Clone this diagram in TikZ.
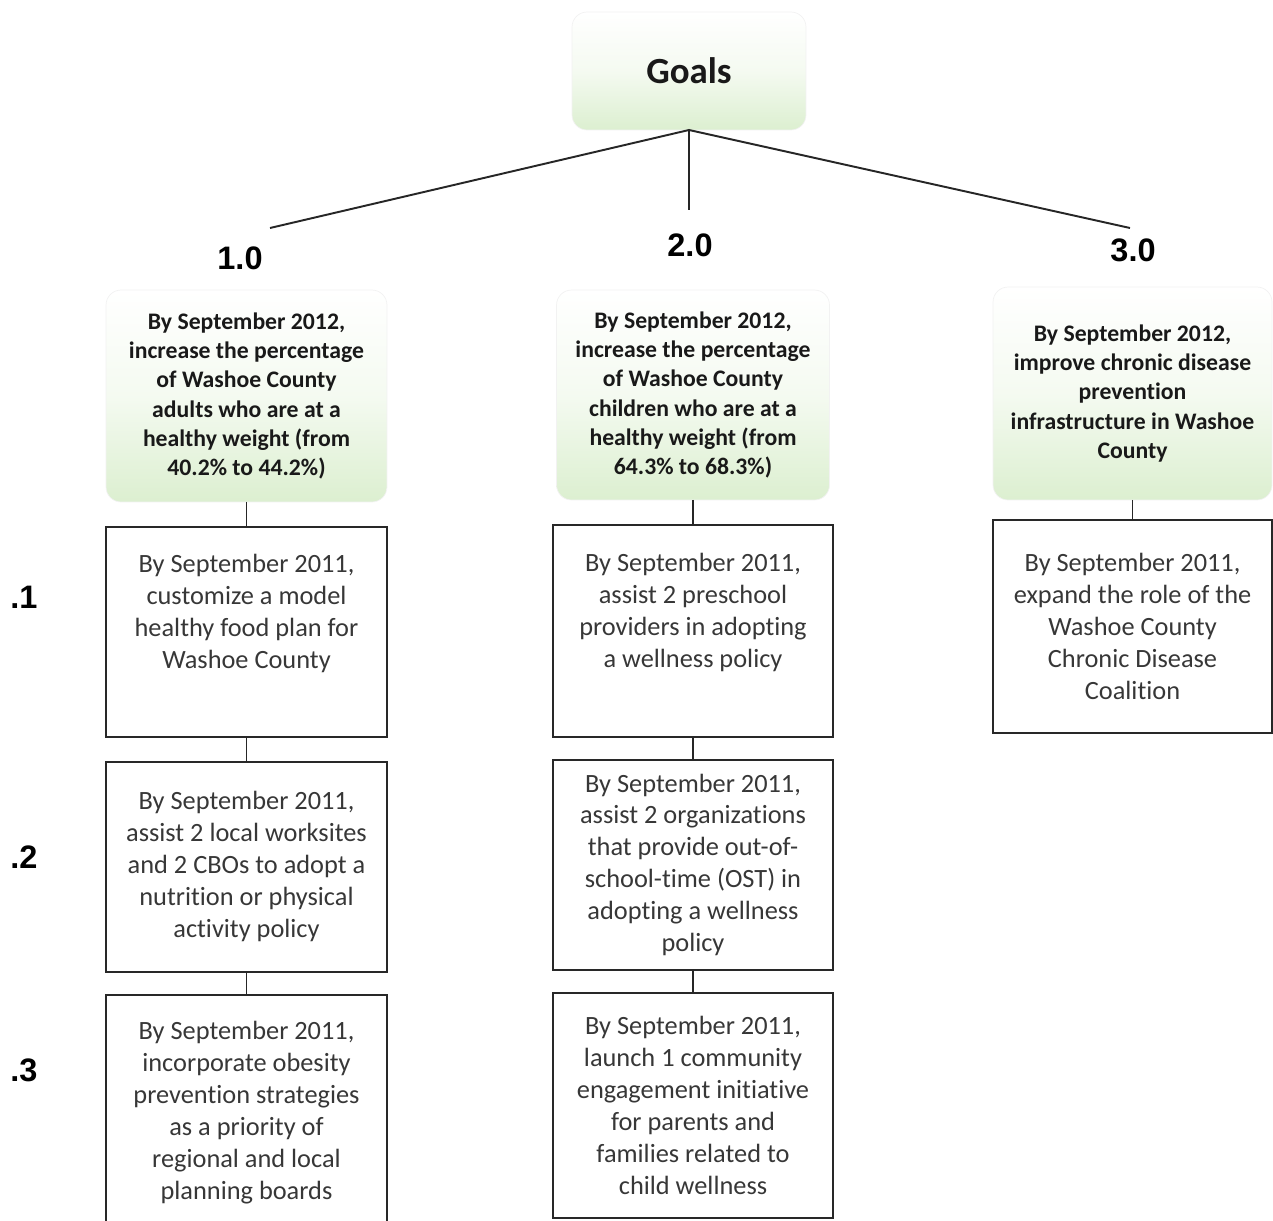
\documentclass[tikz,border=0pt]{standalone}
\usepackage{fontspec}
\setmainfont{Carlito}[Ligatures=NoCommon]
\newfontfamily\numfont{Liberation Sans}
\usetikzlibrary{positioning}
\definecolor{goalgreen}{RGB}{220,239,208}
\definecolor{boxtext}{RGB}{55,55,55}
\definecolor{boxline}{RGB}{40,40,40}

\begin{document}
\begin{tikzpicture}[x=0.02cm,y=-0.02cm,node distance=0.5cm,
                    goal/.style={rounded corners=0.3cm,top color=white,bottom color=goalgreen,
                      middle color=white!70!goalgreen,draw=black!5,align=center,text=black!90,
                      font=\bfseries\fontsize{13.5}{16.6}\selectfont,outer sep=0pt,
                      minimum width=5.62cm,minimum height=4.24cm},
                    objective/.style={draw=boxline,line width=1pt,align=center,text=boxtext,
                      font=\fontsize{15}{18.2}\selectfont,outer sep=0pt,
                      minimum width=5.62cm,minimum height=4.2cm},
                    num/.style={font=\numfont\bfseries\fontsize{18.5}{20}\selectfont},
                    link/.style={line width=1.1pt,draw=black!85}]

  \useasboundingbox (0,0) rectangle (1273,1220);

  \node[goal,minimum width=4.68cm,minimum height=2.36cm,
        font=\bfseries\fontsize{21}{24}\selectfont] (goals) at (689,71) {Goals};

  % goal numbers
  \node[num] (n1) at (240,258) {1.0};
  \node[num] (n2) at (690,245) {2.0};
  \node[num] (n3) at (1133,250) {3.0};
  \coordinate (e1) at (270,228);
  \coordinate (e2) at (689,210);
  \coordinate (e3) at (1130,228);

  % objective numbers
  \node[num] (r1) at (24,597) {.1};
  \node[num] (r2) at (24,857) {.2};
  \node[num] (r3) at (24,1070) {.3};

  % goals
  \node[goal] (g1) at (246.5,396)
    {By September 2012,\\ increase the percentage\\ of Washoe County\\ adults who are at a\\
     healthy weight (from\\ 40.2\% to 44.2\%)};
  \node[goal,minimum width=5.46cm,minimum height=4.2cm] (g2) at (693,395)
    {By September 2012,\\ increase the percentage\\ of Washoe County\\ children who are at a\\
     healthy weight (from\\ 64.3\% to 68.3\%)};
  \node[goal,minimum width=5.58cm,minimum height=4.26cm] (g3) at (1132.5,393.5)
    {By September 2012,\\ improve chronic disease\\ prevention\\ infrastructure in Washoe\\ County};

  % objectives
  \node[objective,below=0.5cm of g1] (o11)
    {By September 2011,\\ customize a model\\ healthy food plan for\\ Washoe County\\ \strut};
  \node[objective,below=0.5cm of o11] (o12)
    {By September 2011,\\ assist 2 local worksites\\ and 2 CBOs to adopt a\\ nutrition or physical\\ activity policy};
  \node[objective,below=0.46cm of o12,minimum height=4.7cm] (o13)
    {By September 2011,\\ incorporate obesity\\ prevention strategies\\ as a priority of\\
     regional and local\\ planning boards};

  \node[objective,below=0.5cm of g2,minimum width=5.6cm,minimum height=4.24cm] (o21)
    {By September 2011,\\ assist 2 preschool\\ providers in adopting\\ a wellness policy\\ \strut};
  \node[objective,below=0.46cm of o21,minimum width=5.6cm] (o22)
    {By September 2011,\\ assist 2 organizations\\ that provide out-of-\\ school-time (OST) in\\
     adopting a wellness\\ policy};
  \node[objective,below=0.46cm of o22,minimum width=5.6cm,minimum height=4.5cm] (o23)
    {By September 2011,\\ launch 1 community\\ engagement initiative\\ for parents and\\
     families related to\\ child wellness};

  \node[objective,below=0.4cm of g3,minimum width=5.58cm,minimum height=4.26cm] (o31)
    {By September 2011,\\ expand the role of the\\ Washoe County\\ Chronic Disease\\ Coalition};

  \draw[link] (e1) -- (goals.south) -- (e3);
  \draw[link] (goals.south) -- (e2);

  \path[link] (g1)  edge (o11)
              (o11) edge (o12)
              (o12) edge (o13)
              (g2)  edge (o21)
              (o21) edge (o22)
              (o22) edge (o23)
              (g3)  edge (o31);
\end{tikzpicture}
\end{document}
